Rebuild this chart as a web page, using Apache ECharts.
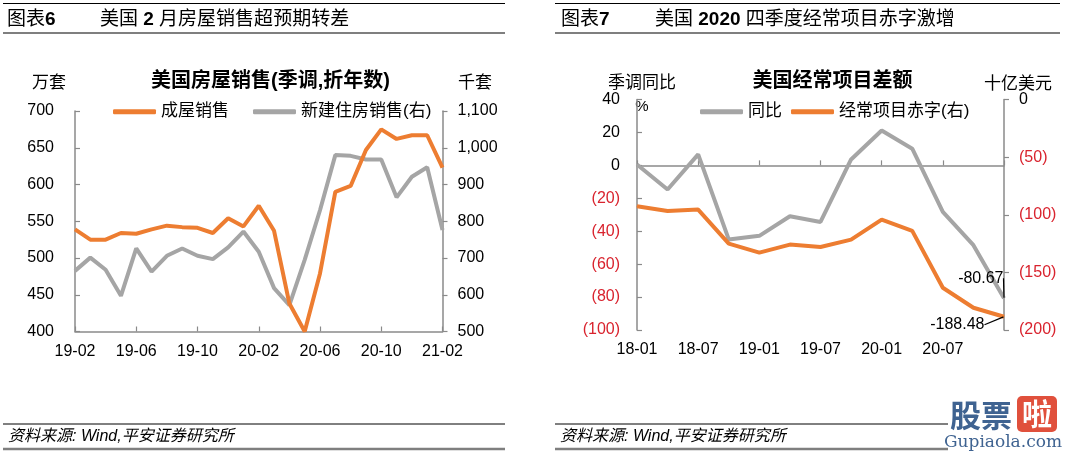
<!DOCTYPE html>
<html><head><meta charset="utf-8">
<script src="https://cdn.jsdelivr.net/npm/echarts@6/dist/echarts.min.js"></script>
<style>html,body{margin:0;padding:0;background:#fff}#c{width:1080px;height:455px}</style>
</head><body><div id="c"></div>
<script>
// ---- Chart 6 data: US home sales (SA, annualized) ----
const months = ['19-02','19-03','19-04','19-05','19-06','19-07','19-08','19-09','19-10','19-11','19-12',
  '20-01','20-02','20-03','20-04','20-05','20-06','20-07','20-08','20-09','20-10','20-11','20-12','21-01','21-02'];
const existingSales = [539,525,525,534,533,539,544,542,541,534,554,543,571,537,438,400,479,590,598,647,675,662,667,667,623]; // 万套
const newSales = [665,701,668,597,726,663,706,726,706,697,729,772,717,618,572,695,830,980,978,968,968,865,921,947,776]; // 千套

// ---- Chart 7 data: US current account ----
const quarters = ['18-01','18-04','18-07','18-10','19-01','19-04','19-07','19-10','20-01','20-04','20-07','20-10','21-01'];
const yoy = [0.5,-14.7,6.7,-45,-42.8,-30.9,-34.4,3.6,21.2,10.1,-28.3,-48.5,-80.67];          // %
const deficit = [-92.6,-96.7,-95.5,-125,-132.9,-125.9,-128,-121.6,-104.2,-114,-163.3,-180.7,-188.48]; // 十亿美元

const ORANGE = '#ED7D31', GRAY = '#A5A5A5', RED = '#D9232E', AX = '#8a8a8a';
const FONT = '"Liberation Sans","Noto Sans CJK SC",sans-serif';

const chart = echarts.init(document.getElementById('c'), null, {renderer:'canvas'});

function yAx(o){ return Object.assign({
  type:'value', splitLine:{show:false},
  axisLine:{show:true, lineStyle:{color:AX, width:1.5}},
  axisTick:{show:true, inside:true, length:5, lineStyle:{color:AX, width:1.2}},
  axisLabel:{fontSize:16, color:'#000', fontFamily:FONT}
}, o); }

const negFmt = v => v < 0 ? '(' + (-v) + ')' : String(v);
const negCol = v => Number(v) < 0 ? RED : '#000';

const lastIdx = quarters.length - 1;

function headText(x, text){
  return {type:'text', style:{x:x, y:20, text:text, fontSize:19, fontFamily:FONT, fontWeight:'normal', fill:'#000', verticalAlign:'middle',
    rich:{b:{fontSize:19, fontFamily:FONT, fontWeight:'bold', fill:'#000'}}}};
}

const option = {
  animation:false,
  textStyle:{fontFamily:FONT},
  grid:[
    {left:75, top:111, width:367.5, height:220.5},
    {left:637, top:99.5, width:367, height:230.5}
  ],
  legend:[
    {left:113, top:101.7, padding:0, itemWidth:43, itemHeight:5, itemGap:24, icon:'roundRect',
     textStyle:{fontSize:17, color:'#000', lineHeight:20, fontFamily:FONT}, data:['成屋销售','新建住房销售(右)']},
    {left:700, top:101.7, padding:0, itemWidth:43, itemHeight:5, itemGap:9, icon:'roundRect',
     textStyle:{fontSize:17, color:'#000', lineHeight:20, fontFamily:FONT}, data:['同比','经常项目赤字(右)']}
  ],
  xAxis:[
    {type:'category', gridIndex:0, data:months, boundaryGap:false,
     axisLine:{lineStyle:{color:AX, width:1.5}},
     axisTick:{inside:true, length:5, interval:3, lineStyle:{color:AX, width:1.2}},
     axisLabel:{interval:3, fontSize:16, color:'#000', margin:12, fontFamily:FONT}},
    {type:'category', gridIndex:1, data:quarters, boundaryGap:false,
     axisLine:{onZero:true, onZeroAxisIndex:2, lineStyle:{color:AX, width:1.5}},
     axisTick:{inside:true, length:5, interval:1, lineStyle:{color:AX, width:1.2}},
     axisLabel:{show:false}},
    {type:'category', gridIndex:1, data:quarters, boundaryGap:false, position:'bottom',
     axisLine:{show:false, onZero:false}, axisTick:{show:false},
     axisLabel:{interval:1, fontSize:16, color:'#000', margin:12, fontFamily:FONT,
       formatter:(v,i)=> i===lastIdx ? '' : v}}
  ],
  yAxis:[
    yAx({gridIndex:0, min:400, max:700, interval:50, axisLabel:{fontSize:16,color:'#000',margin:21,fontFamily:FONT}}),
    yAx({gridIndex:0, position:'right', min:500, max:1100, interval:100,
      axisTick:{show:true, inside:false, length:5, lineStyle:{color:AX, width:1.2}},
      axisLabel:{fontSize:16,color:'#000',margin:15,fontFamily:FONT, formatter:v=>v.toLocaleString('en-US')}}),
    yAx({gridIndex:1, min:-100, max:40, interval:20,
      axisLabel:{fontSize:16,margin:17,fontFamily:FONT, formatter:negFmt, color:negCol}}),
    yAx({gridIndex:1, position:'right', min:-200, max:0, interval:50,
      axisTick:{show:true, inside:false, length:5, lineStyle:{color:AX, width:1.2}},
      axisLabel:{fontSize:16,margin:15,fontFamily:FONT, formatter:negFmt, color:negCol}})
  ],
  series:[
    {name:'成屋销售', type:'line', xAxisIndex:0, yAxisIndex:0, data:existingSales, symbol:'none',
     lineStyle:{color:ORANGE, width:4}, itemStyle:{color:ORANGE}},
    {name:'新建住房销售(右)', type:'line', xAxisIndex:0, yAxisIndex:1, data:newSales, symbol:'none',
     lineStyle:{color:GRAY, width:4}, itemStyle:{color:GRAY}, z:1},
    {name:'同比', type:'line', xAxisIndex:1, yAxisIndex:2, symbol:'circle', symbolSize:1, showSymbol:true,
     data: yoy.map((v,i)=> i===lastIdx ? {value:v, label:{show:true}} : v),
     lineStyle:{color:GRAY, width:4}, itemStyle:{color:GRAY}, z:1,
     label:{show:false, position:'left', distance:3, fontSize:16, color:'#000', fontFamily:FONT, formatter:p=>p.value},
     labelLine:{show:true, lineStyle:{color:'#000', width:1.2}},
     labelLayout:p=> p.dataIndex===lastIdx ? {dx:3, dy:-20} : {}},
    {name:'经常项目赤字(右)', type:'line', xAxisIndex:1, yAxisIndex:3, symbol:'circle', symbolSize:1, showSymbol:true,
     data: deficit.map((v,i)=> i===lastIdx ? {value:v, label:{show:true}} : v),
     lineStyle:{color:ORANGE, width:4}, itemStyle:{color:ORANGE},
     label:{show:false, position:'left', distance:3, fontSize:16, color:'#000', fontFamily:FONT, formatter:p=>p.value},
     labelLine:{show:true, lineStyle:{color:'#000', width:1.2}},
     labelLayout:p=> p.dataIndex===lastIdx ? {dx:-16, dy:8} : {}}
  ],
  graphic:[
    // header lines
    {type:'line', shape:{x1:3,y1:3.5,x2:505,y2:3.5}, style:{stroke:'#000', lineWidth:1}},
    {type:'line', shape:{x1:3,y1:33,x2:505,y2:33}, style:{stroke:'#7f7f7f', lineWidth:2}},
    {type:'line', shape:{x1:555,y1:3.5,x2:1060,y2:3.5}, style:{stroke:'#000', lineWidth:1}},
    {type:'line', shape:{x1:555,y1:33,x2:1060,y2:33}, style:{stroke:'#7f7f7f', lineWidth:2}},
    headText(7, '图表{b|6}'),
    headText(100, '美国 {b|2} 月房屋销售超预期转差'),
    headText(561, '图表{b|7}'),
    headText(655, '美国 {b|2020} 四季度经常项目赤字激增'),
    // chart titles & units
    {type:'text', style:{x:270.5, y:81, text:'美国房屋销售(季调,折年数)', font:'bold 20px '+FONT, fill:'#000', align:'center', verticalAlign:'middle'}},
    {type:'text', style:{x:49, y:83, text:'万套', font:'17px '+FONT, fill:'#000', align:'center', verticalAlign:'middle'}},
    {type:'text', style:{x:475, y:83, text:'千套', font:'17px '+FONT, fill:'#000', align:'center', verticalAlign:'middle'}},
    {type:'text', style:{x:832.5, y:81, text:'美国经常项目差额', font:'bold 20px '+FONT, fill:'#000', align:'center', verticalAlign:'middle'}},
    {type:'text', style:{x:642, y:83, text:'季调同比', font:'17px '+FONT, fill:'#000', align:'center', verticalAlign:'middle'}},
    {type:'text', style:{x:642, y:107, text:'%', font:'15px '+FONT, fill:'#000', align:'center', verticalAlign:'middle'}},
    {type:'text', style:{x:1018, y:84, text:'十亿美元', font:'17px '+FONT, fill:'#000', align:'center', verticalAlign:'middle'}},
    // footers
    {type:'line', shape:{x1:3,y1:424,x2:505,y2:424}, style:{stroke:'#000', lineWidth:1}},
    {type:'line', shape:{x1:3,y1:449,x2:505,y2:449}, style:{stroke:'#7f7f7f', lineWidth:2.5}},
    {type:'line', shape:{x1:555,y1:424,x2:1058,y2:424}, style:{stroke:'#000', lineWidth:1}},
    {type:'line', shape:{x1:555,y1:449,x2:1058,y2:449}, style:{stroke:'#7f7f7f', lineWidth:2.5}},
    {type:'text', style:{x:8, y:437, text:'资料来源: Wind,平安证券研究所', font:'italic 16px '+FONT, fill:'#000', verticalAlign:'middle'}},
    {type:'text', style:{x:560, y:437, text:'资料来源: Wind,平安证券研究所', font:'italic 16px '+FONT, fill:'#000', verticalAlign:'middle'}},
    // watermark
    {type:'rect', shape:{x:948,y:394,width:112,height:58}, style:{fill:'#fff'}},
    {type:'text', style:{x:950, y:415, text:'股票', font:'bold 31px "Noto Sans CJK SC"', fill:'#3f6391', verticalAlign:'middle'}},
    {type:'rect', shape:{x:1017,y:396,width:40,height:36,r:5}, style:{fill:'#e0503c'}},
    {type:'text', style:{x:1037, y:414, text:'啦', font:'bold 30px "Noto Sans CJK SC"', fill:'#fff', align:'center', verticalAlign:'middle'}},
    {type:'text', style:{x:1003, y:443, text:'Gupiaola.com', font:'17px "DejaVu Serif",serif', fill:'#3f6391', align:'center', verticalAlign:'middle'}}
  ]
};
chart.setOption(option);
</script></body></html>
